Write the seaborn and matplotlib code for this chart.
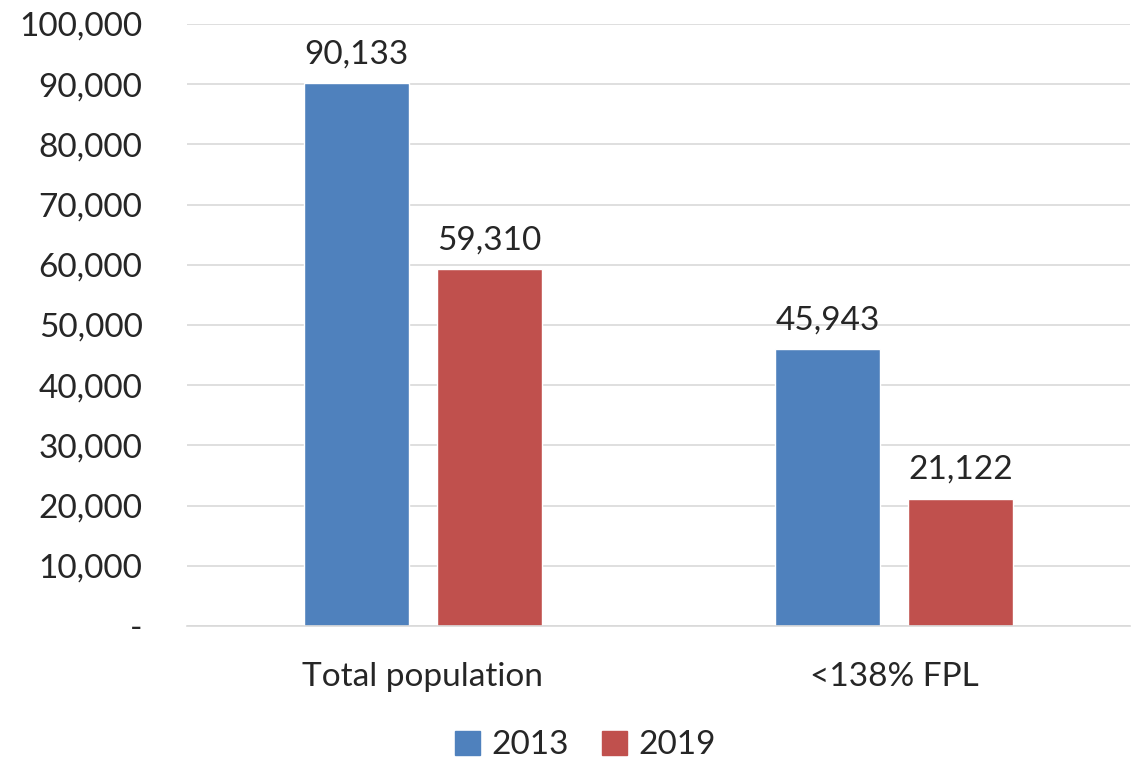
import matplotlib
matplotlib.use("Agg")
import matplotlib.pyplot as plt
import seaborn as sns
import pandas as pd
from matplotlib.ticker import FuncFormatter

categories = ["Total population", "<138% FPL"]
years = ["2013", "2019"]
values_2013 = [90133, 45943]
values_2019 = [59310, 21122]
colors = ["#4F81BD", "#C0504D"]

df = pd.DataFrame({
    "category": categories * 2,
    "year": [years[0]] * 2 + [years[1]] * 2,
    "value": values_2013 + values_2019,
})

sns.set_theme(style="white")
plt.rcParams["font.family"] = ["Lato", "DejaVu Sans"]

fig = plt.figure(figsize=(11.48, 7.6), dpi=100)
ax = fig.add_axes([187/1148, 1 - 626/760, (1130-187)/1148, (626-24)/760])

sns.barplot(data=df, x="category", y="value", hue="year", palette=colors,
            width=0.566, gap=0.213, ax=ax, saturation=1, errorbar=None)

FS = 24
ax.set_ylim(0, 100000)
ax.set_yticks(range(0, 100001, 10000))
ax.yaxis.set_major_formatter(FuncFormatter(lambda v, p: "-" if v == 0 else f"{int(v):,}"))
ax.grid(axis="y", color="#D9D9D9", linewidth=1.2)
ax.set_axisbelow(True)
for s in ["top", "right", "left"]:
    ax.spines[s].set_visible(False)
ax.spines["bottom"].set_color("#D9D9D9")
ax.spines["bottom"].set_linewidth(1.2)
ax.tick_params(axis="y", labelsize=FS, length=0, pad=32)
ax.tick_params(axis="x", labelsize=FS, length=0, pad=26)
for lbl in ax.get_yticklabels():
    lbl.set_horizontalalignment("right")
ax.set_xlabel("")
ax.set_ylabel("")

for c in ax.containers:
    ax.bar_label(c, labels=[f"{int(v):,}" for v in c.datavalues], fontsize=FS, padding=10)

ax.legend_.remove()
handles = [plt.Rectangle((0, 0), 1, 1, color=col) for col in colors]
fig.legend(handles, years, loc="lower center", ncol=2, frameon=False, fontsize=FS,
           bbox_to_anchor=(0.51, -0.04), handlelength=0.75, handleheight=0.75,
           columnspacing=1.0, handletextpad=0.35)

fig.savefig("out.png", dpi=100)
